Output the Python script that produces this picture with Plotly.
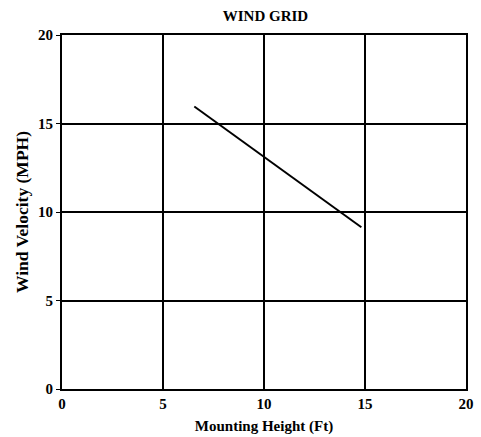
import plotly.graph_objects as go

mounting_height_ft = [6.55, 14.82]
wind_velocity_mph = [15.96, 9.14]
tick_vals = [0, 5, 10, 15, 20]
tick_text = ["0", "5", "10", "15", "20"]

FONT = "Liberation Serif"
FS = 15

fig = go.Figure()
fig.add_trace(go.Scatter(
    x=mounting_height_ft, y=wind_velocity_mph, mode="lines",
    line=dict(color="black", width=2), showlegend=False, hoverinfo="skip"))

axis_common = dict(
    range=[0, 20], tickvals=tick_vals, ticktext=tick_text,
    showgrid=True, gridcolor="black", gridwidth=2,
    showline=True, linecolor="black", linewidth=2, mirror=True,
    zeroline=False, automargin=False,
    tickfont=dict(family=FONT, size=FS, color="black", weight="bold"),
)

fig.update_layout(
    width=481, height=437,
    margin=dict(l=62, r=15, t=35, b=48),
    paper_bgcolor="white", plot_bgcolor="white",
    font=dict(family=FONT, color="black"),
    title=dict(text="WIND GRID", x=0.552, xanchor="center",
               y=1 - 15.5 / 437, yanchor="middle", yref="container",
               automargin=False,
               font=dict(family=FONT, size=FS, color="black", weight="bold")),
    xaxis=dict(**axis_common, ticks="", ticklen=0,
               title=dict(text="Mounting Height (Ft)", standoff=9,
                          font=dict(family=FONT, size=FS, color="black", weight="bold"))),
    yaxis=dict(**axis_common, ticks="outside", ticklen=4, tickwidth=1, tickcolor="black",
               title=dict(text="Wind Velocity (MPH)", standoff=5,
                          font=dict(family=FONT, size=17.5, color="black", weight="bold"))),
)

fig.write_html("out.html", post_script="document.body.style.margin='0';",
               config={"displayModeBar": False})
